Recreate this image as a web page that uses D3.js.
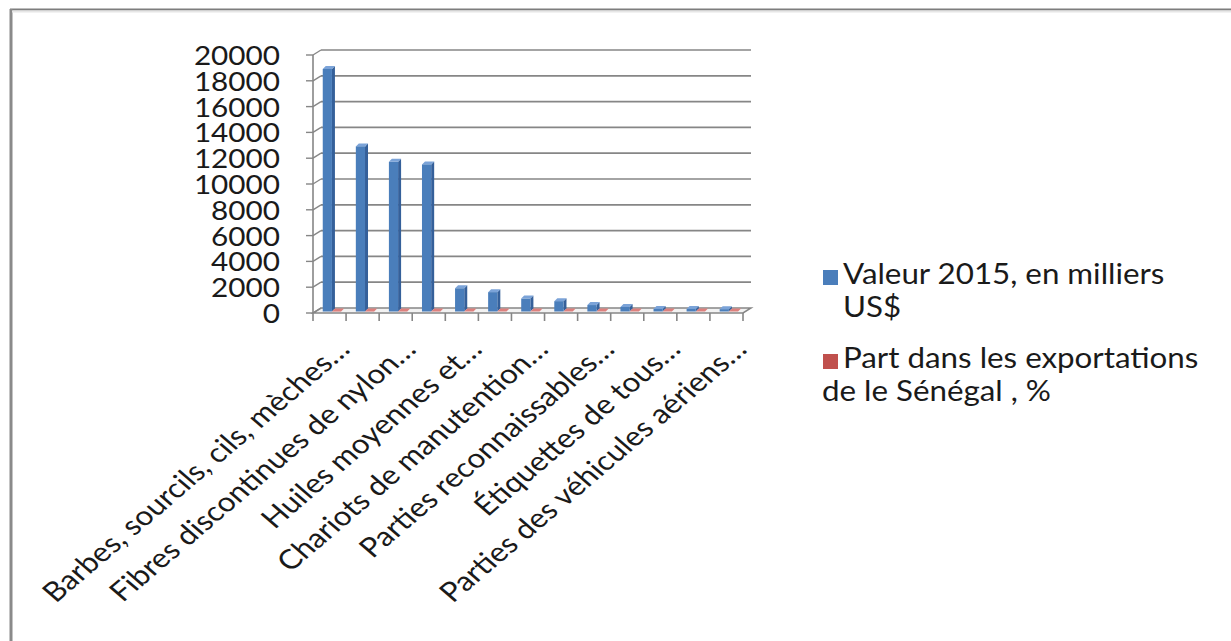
<!DOCTYPE html>
<html><head><meta charset="utf-8">
<script src="https://cdn.jsdelivr.net/npm/d3@7"></script>
<style>html,body{margin:0;padding:0;background:#fff;}svg{display:block;}</style>
</head><body>
<svg id="c" width="1231" height="641"></svg>
<script>
// ---- data ----
const categories = [
  "Barbes, sourcils, cils, mèches…",
  "Produit 2",
  "Fibres discontinues de nylon…",
  "Produit 4",
  "Huiles moyennes et…",
  "Produit 6",
  "Chariots de manutention…",
  "Produit 8",
  "Parties reconnaissables…",
  "Produit 10",
  "Étiquettes de tous…",
  "Produit 12",
  "Parties des véhicules aériens…"
];
const shownLabel = [true,false,true,false,true,false,true,false,true,false,true,false,true];
const seriesNames = ["Valeur 2015, en milliers US$", "Part dans les exportations de le Sénégal , %"];
const valeur2015 = [18800, 12800, 11600, 11400, 1800, 1500, 1000, 800, 500, 350, 200, 200, 180];
const partExport = [8.6, 5.9, 5.3, 5.2, 0.8, 0.7, 0.5, 0.4, 0.2, 0.2, 0.1, 0.1, 0.1];
const yTicks = [0, 2000, 4000, 6000, 8000, 10000, 12000, 14000, 16000, 18000, 20000];

// ---- layout ----
const svg = d3.select("#c");
const FONT = "Lato, 'DejaVu Sans', sans-serif";
const x0 = 313, x1 = 743, yBase = 313, yTop = 55;
const WDX = 8, WDY = -5;          // wall depth
const BSX = 2.4, BSY = -1.5;      // bar position inside depth
const BDX = 3, BDY = -3;          // bar own depth
const gridCol = "#868686";

const x = d3.scaleBand().domain(d3.range(categories.length)).range([x0, x1]).padding(0);
const xs = d3.scaleBand().domain([0, 1]).range([0, x.bandwidth()]).paddingInner(0).paddingOuter(0.8);
const y = d3.scaleLinear().domain([0, 20000]).range([yBase, yTop]);

// frame
svg.append("line").attr("x1", 10).attr("x2", 1231).attr("y1", 9.5).attr("y2", 9.5).attr("stroke", "#7d7d7d").attr("stroke-width", 2);
svg.append("line").attr("x1", 11).attr("x2", 11).attr("y1", 9).attr("y2", 641).attr("stroke", "#8a8a8a").attr("stroke-width", 3);
svg.append("line").attr("x1", 12).attr("x2", 1231).attr("y1", 11.5).attr("y2", 11.5).attr("stroke", "#e6e6e6").attr("stroke-width", 2);

// floor
const floor = [[x0, yBase], [x1, yBase], [x1 + WDX, yBase + WDY], [x0 + WDX, yBase + WDY]];
svg.append("polygon").attr("points", floor.map(p => p.join(",")).join(" "))
  .attr("fill", "#f2f2f2").attr("stroke", gridCol).attr("stroke-width", 1.5);

// gridlines + side-wall diagonals + y ticks
const grid = svg.append("g");
yTicks.forEach(t => {
  const yy = y(t);
  if (t > 0) {
    grid.append("line").attr("x1", x0 + WDX).attr("x2", x1 + WDX).attr("y1", yy + WDY).attr("y2", yy + WDY)
      .attr("stroke", gridCol).attr("stroke-width", 1.7);
  }
  grid.append("line").attr("x1", x0).attr("x2", x0 + WDX).attr("y1", yy).attr("y2", yy + WDY)
    .attr("stroke", gridCol).attr("stroke-width", 1.4);
  grid.append("line").attr("x1", x0 - 7).attr("x2", x0).attr("y1", yy).attr("y2", yy)
    .attr("stroke", gridCol).attr("stroke-width", 1.4);
  svg.append("text").attr("transform", `translate(280,${yy + 10}) scale(1.08,1)`)
    .attr("text-anchor", "end").attr("font-family", FONT).attr("font-size", 27.5).attr("fill", "#1a1a1a")
    .text(t);
});
// y axis line
svg.append("line").attr("x1", x0).attr("x2", x0).attr("y1", yBase).attr("y2", yTop)
  .attr("stroke", gridCol).attr("stroke-width", 1.6);

// x ticks
d3.range(categories.length + 1).forEach(i => {
  const xx = i < categories.length ? x(i) : x1;
  svg.append("line").attr("x1", xx).attr("x2", xx).attr("y1", yBase).attr("y2", yBase + 8)
    .attr("stroke", gridCol).attr("stroke-width", 1.6);
});

// bars
const colors = [
  {front: "#4a7ebb", side: "#35609a", top: "#7ba3d8"},
  {front: "#c0504d", side: "#973c3a", top: "#dd807d"}
];
const series = [valeur2015, partExport];
const bars = svg.append("g");
categories.forEach((c, i) => {
  series.forEach((vals, s) => {
    const col = colors[s];
    const bx = x(i) + xs(s) + BSX, bw = xs.bandwidth();
    const b0 = y(0) + BSY, bt = y(vals[i]) + BSY;
    const g = bars.append("g");
    g.append("polygon").attr("points", [[bx + bw, b0], [bx + bw + BDX, b0 + BDY], [bx + bw + BDX, bt + BDY], [bx + bw, bt]].map(p => p.join(",")).join(" "))
      .attr("fill", col.side);
    g.append("polygon").attr("points", [[bx, bt], [bx + BDX, bt + BDY], [bx + bw + BDX, bt + BDY], [bx + bw, bt]].map(p => p.join(",")).join(" "))
      .attr("fill", col.top);
    g.append("rect").attr("x", bx).attr("y", bt).attr("width", bw).attr("height", Math.max(0, b0 - bt))
      .attr("fill", col.front);
  });
});

// category labels
categories.forEach((c, i) => {
  if (!shownLabel[i]) return;
  const cx = x(i) + x.bandwidth() / 2;
  svg.append("text").attr("transform", `translate(${cx + 22},351) scale(1.17,1) rotate(-45)`)
    .attr("text-anchor", "end").attr("font-family", FONT).attr("font-size", 27).attr("fill", "#1a1a1a")
    .text(c);
});

// legend
const leg = svg.append("g");
const legLines = [
  {s: 0, lines: [{t: "Valeur 2015, en milliers", x: 843, y: 284}, {t: "US$", x: 843, y: 317}], sq: 270},
  {s: 1, lines: [{t: "Part dans les exportations", x: 843, y: 368}, {t: "de le Sénégal , %", x: 822, y: 401}], sq: 354}
];
legLines.forEach(L => {
  leg.append("rect").attr("x", 823).attr("y", L.sq).attr("width", 15).attr("height", 15).attr("fill", colors[L.s].front);
  L.lines.forEach(l => {
    leg.append("text").attr("transform", `translate(${l.x},${l.y}) scale(1.08,1)`)
      .attr("font-family", FONT).attr("font-size", 29).attr("fill", "#1a1a1a").text(l.t);
  });
});
</script>
</body></html>
